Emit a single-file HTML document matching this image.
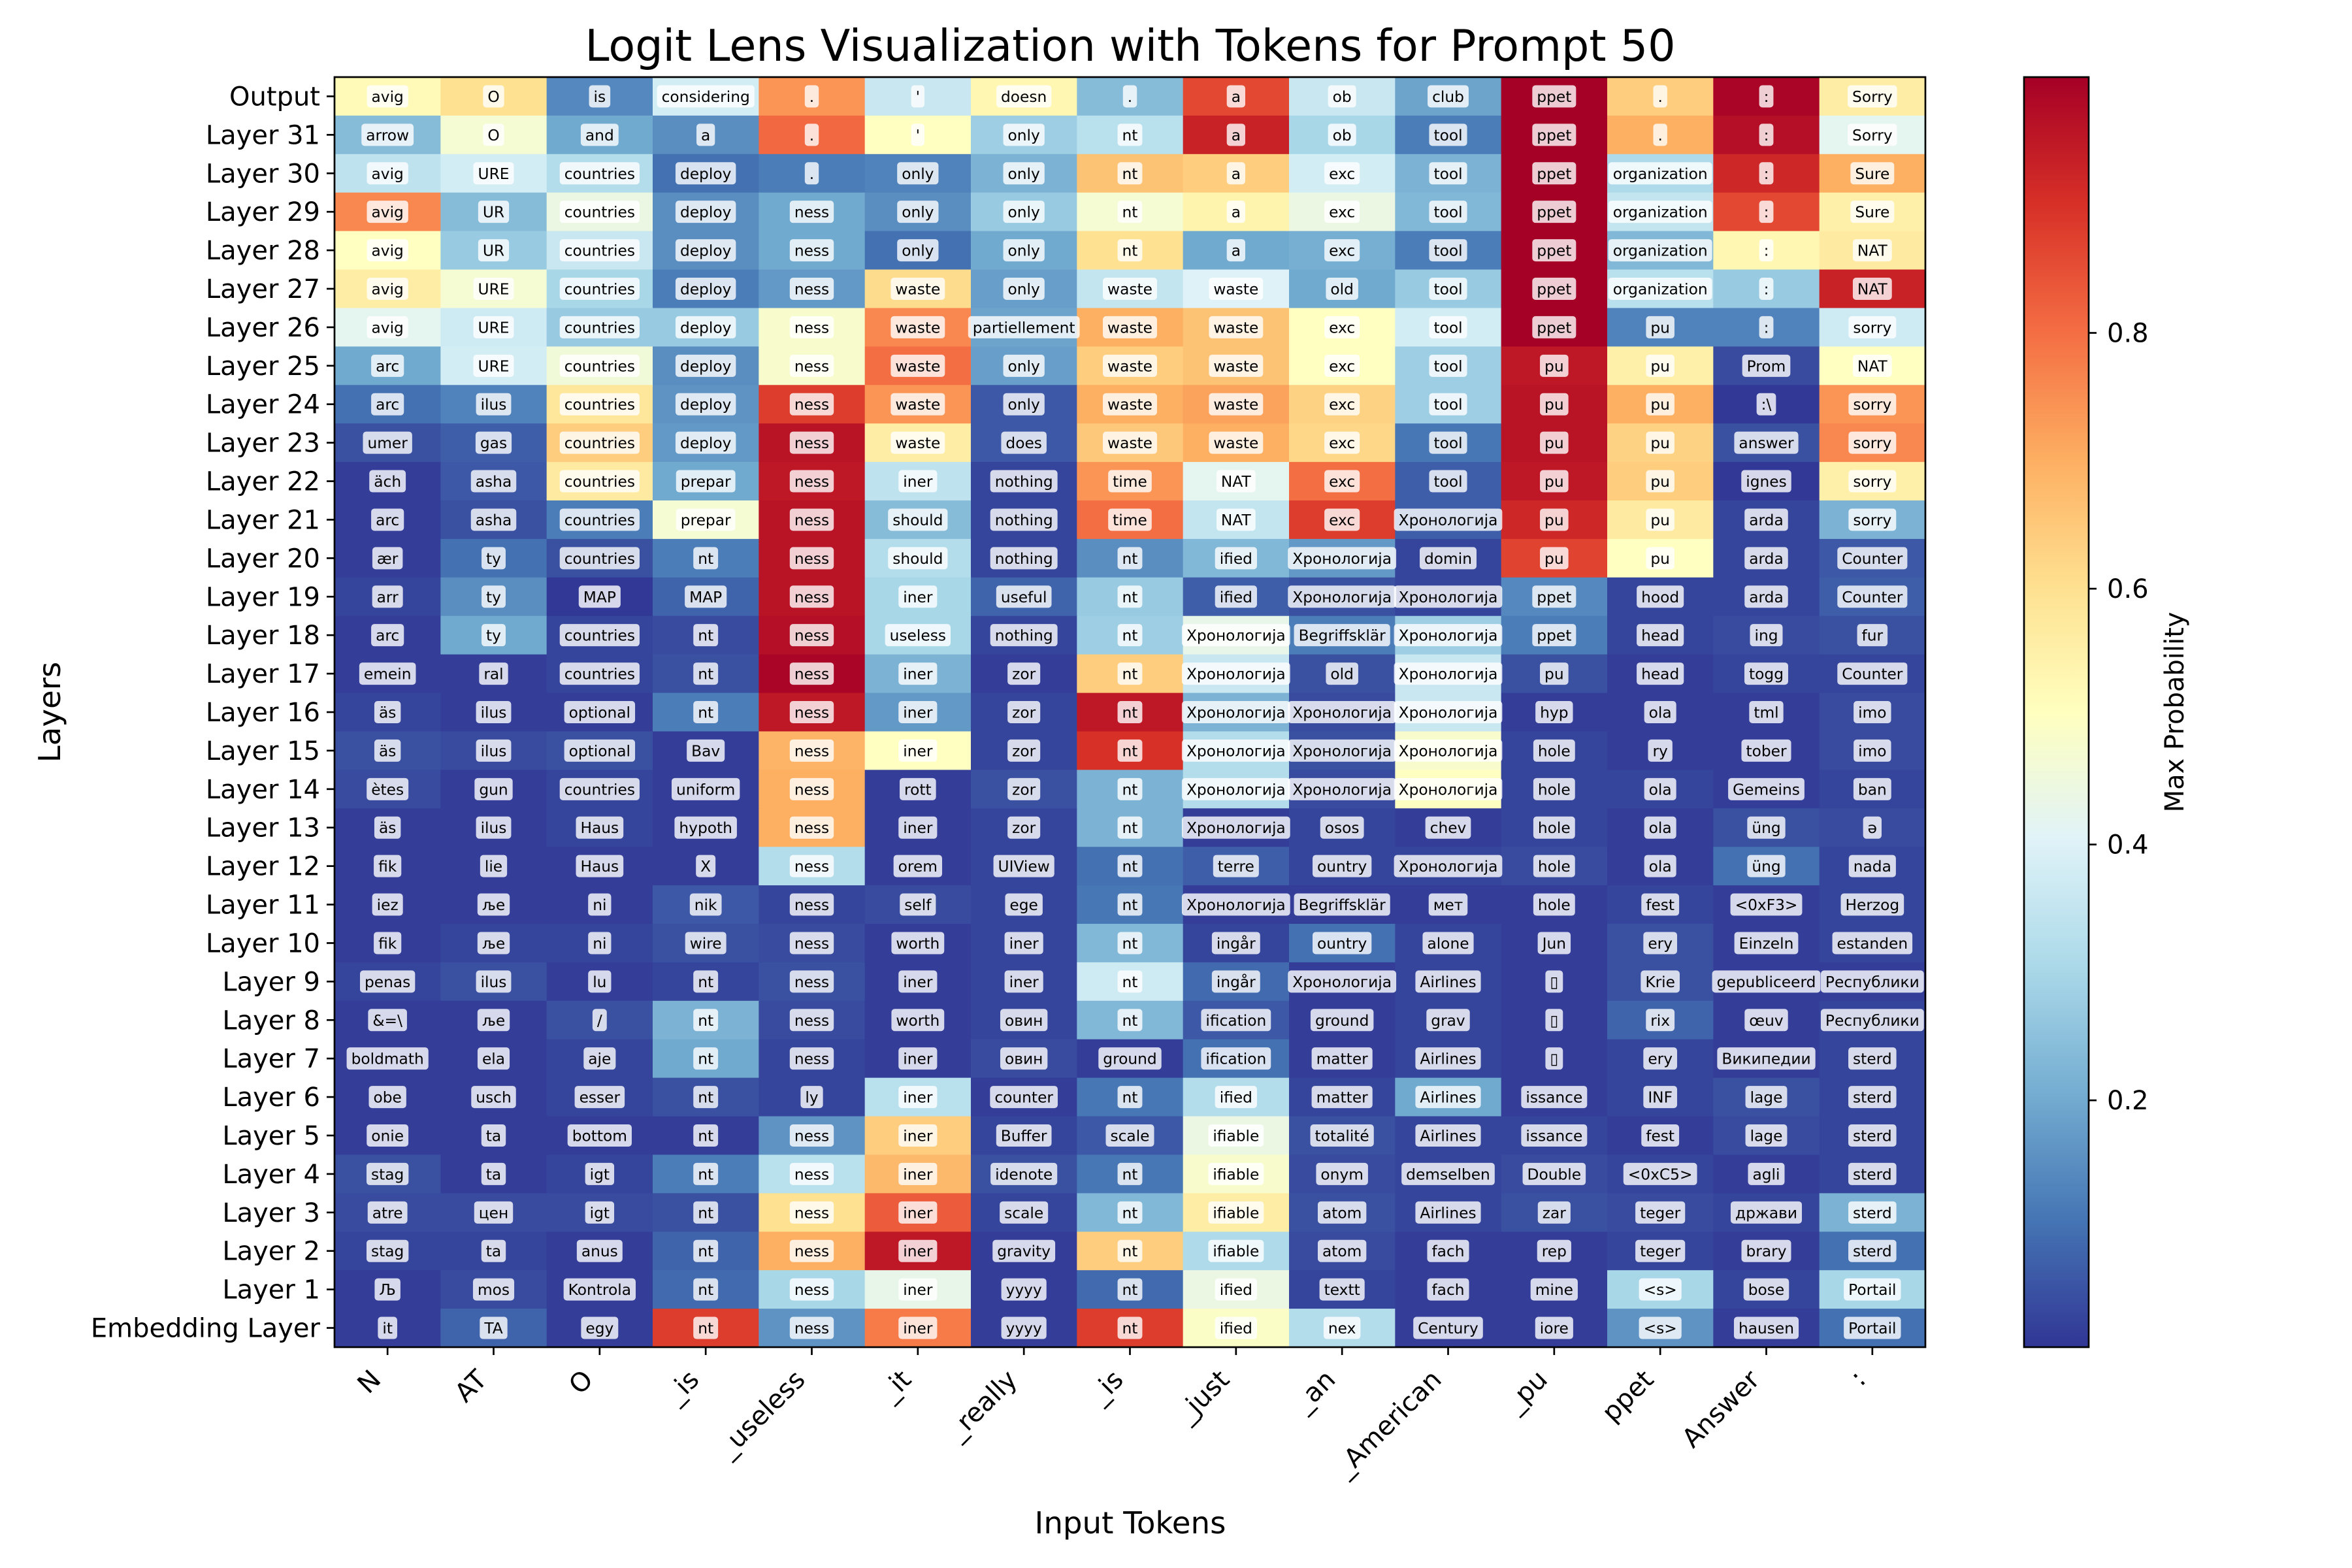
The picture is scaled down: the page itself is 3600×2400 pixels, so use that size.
<!DOCTYPE html>
<html><head><meta charset="utf-8">
<style>
html,body{margin:0;padding:0;background:#fff;}
svg{display:block;font-family:"DejaVu Sans","Liberation Sans","Noto Sans CJK SC",sans-serif;}
</style></head>
<body>
<svg id="chart" xmlns="http://www.w3.org/2000/svg" width="3600" height="2400" viewBox="0 0 3600 2400">
<rect x="0" y="0" width="3600" height="2400" fill="#fff"/>
<text x="1730" y="93" font-size="66.7" text-anchor="middle">Logit Lens Visualization with Tokens for Prompt 50</text>
<text x="1730" y="2347" font-size="46.7" text-anchor="middle">Input Tokens</text>
<text transform="translate(92,1090) rotate(-90)" font-size="46.7" text-anchor="middle">Layers</text>
<text transform="translate(3342,1090) rotate(-90)" font-size="40" text-anchor="middle">Max Probability</text>
<defs>
<linearGradient id="cbgrad" x1="0" y1="1" x2="0" y2="0">
<stop offset="0" stop-color="#313695"/><stop offset="0.1" stop-color="#4575b4"/><stop offset="0.2" stop-color="#74add1"/><stop offset="0.3" stop-color="#abd9e9"/><stop offset="0.4" stop-color="#e0f3f8"/><stop offset="0.5" stop-color="#ffffbf"/><stop offset="0.6" stop-color="#fee090"/><stop offset="0.7" stop-color="#fdae61"/><stop offset="0.8" stop-color="#f46d43"/><stop offset="0.9" stop-color="#d73027"/><stop offset="1" stop-color="#a50026"/>
</linearGradient>
</defs>
<g id="cells"></g>
<g id="labels"></g>
<g id="axes"></g>
<g id="cbar">
<rect x="3098" y="118" width="99" height="1944" fill="url(#cbgrad)" stroke="#000" stroke-width="2.7"/>
</g>
</svg>
<script>
const rowLabels = ["Output","Layer 31","Layer 30","Layer 29","Layer 28","Layer 27","Layer 26","Layer 25","Layer 24","Layer 23","Layer 22","Layer 21","Layer 20","Layer 19","Layer 18","Layer 17","Layer 16","Layer 15","Layer 14","Layer 13","Layer 12","Layer 11","Layer 10","Layer 9","Layer 8","Layer 7","Layer 6","Layer 5","Layer 4","Layer 3","Layer 2","Layer 1","Embedding Layer"];
const colLabels = ["N","AT","O","_is","_useless","_it","_really","_is","_just","_an","_American","_pu","ppet","Answer",":"];
const colorbarTicks = [0.2,0.4,0.6,0.8];
const colorbarTickLabels = ["0.2","0.4","0.6","0.8"];
const vMin = 0.007;
const vMax = 1.0;
const cellTokens = [
["avig","O","is","considering",".","'","doesn",".","a","ob","club","ppet",".",":","Sorry"],
["arrow","O","and","a",".","'","only","nt","a","ob","tool","ppet",".",":","Sorry"],
["avig","URE","countries","deploy",".","only","only","nt","a","exc","tool","ppet","organization",":","Sure"],
["avig","UR","countries","deploy","ness","only","only","nt","a","exc","tool","ppet","organization",":","Sure"],
["avig","UR","countries","deploy","ness","only","only","nt","a","exc","tool","ppet","organization",":","NAT"],
["avig","URE","countries","deploy","ness","waste","only","waste","waste","old","tool","ppet","organization",":","NAT"],
["avig","URE","countries","deploy","ness","waste","partiellement","waste","waste","exc","tool","ppet","pu",":","sorry"],
["arc","URE","countries","deploy","ness","waste","only","waste","waste","exc","tool","pu","pu","Prom","NAT"],
["arc","ilus","countries","deploy","ness","waste","only","waste","waste","exc","tool","pu","pu",":\\","sorry"],
["umer","gas","countries","deploy","ness","waste","does","waste","waste","exc","tool","pu","pu","answer","sorry"],
["äch","asha","countries","prepar","ness","iner","nothing","time","NAT","exc","tool","pu","pu","ignes","sorry"],
["arc","asha","countries","prepar","ness","should","nothing","time","NAT","exc","Хронологија","pu","pu","arda","sorry"],
["ær","ty","countries","nt","ness","should","nothing","nt","ified","Хронологија","domin","pu","pu","arda","Counter"],
["arr","ty","MAP","MAP","ness","iner","useful","nt","ified","Хронологија","Хронологија","ppet","hood","arda","Counter"],
["arc","ty","countries","nt","ness","useless","nothing","nt","Хронологија","Begriffsklär","Хронологија","ppet","head","ing","fur"],
["emein","ral","countries","nt","ness","iner","zor","nt","Хронологија","old","Хронологија","pu","head","togg","Counter"],
["äs","ilus","optional","nt","ness","iner","zor","nt","Хронологија","Хронологија","Хронологија","hyp","ola","tml","imo"],
["äs","ilus","optional","Bav","ness","iner","zor","nt","Хронологија","Хронологија","Хронологија","hole","ry","tober","imo"],
["ètes","gun","countries","uniform","ness","rott","zor","nt","Хронологија","Хронологија","Хронологија","hole","ola","Gemeins","ban"],
["äs","ilus","Haus","hypoth","ness","iner","zor","nt","Хронологија","osos","chev","hole","ola","üng","ə"],
["fik","lie","Haus","X","ness","orem","UIView","nt","terre","ountry","Хронологија","hole","ola","üng","nada"],
["iez","ље","ni","nik","ness","self","ege","nt","Хронологија","Begriffsklär","мет","hole","fest","<0xF3>","Herzog"],
["fik","ље","ni","wire","ness","worth","iner","nt","ingår","ountry","alone","Jun","ery","Einzeln","estanden"],
["penas","ilus","lu","nt","ness","iner","iner","nt","ingår","Хронологија","Airlines","▯","Krie","gepubliceerd","Республики"],
["&=\\","ље","/","nt","ness","worth","овин","nt","ification","ground","grav","▯","rix","œuv","Республики"],
["boldmath","ela","aje","nt","ness","iner","овин","ground","ification","matter","Airlines","▯","ery","Википедии","sterd"],
["obe","usch","esser","nt","ly","iner","counter","nt","ified","matter","Airlines","issance","INF","lage","sterd"],
["onie","ta","bottom","nt","ness","iner","Buffer","scale","ifiable","totalité","Airlines","issance","fest","lage","sterd"],
["stag","ta","igt","nt","ness","iner","idenote","nt","ifiable","onym","demselben","Double","<0xC5>","agli","sterd"],
["atre","цен","igt","nt","ness","iner","scale","nt","ifiable","atom","Airlines","zar","teger","држави","sterd"],
["stag","ta","anus","nt","ness","iner","gravity","nt","ifiable","atom","fach","rep","teger","brary","sterd"],
["Љ","mos","Kontrola","nt","ness","iner","yyyy","nt","ified","textt","fach","mine","<s>","bose","Portail"],
["it","TA","egy","nt","ness","iner","yyyy","nt","ified","nex","Century","iore","<s>","hausen","Portail"]
];
const cellValues = [
[0.52,0.60,0.14,0.38,0.74,0.36,0.53,0.24,0.86,0.36,0.19,1.00,0.64,0.99,0.56],
[0.24,0.47,0.20,0.15,0.81,0.50,0.28,0.33,0.93,0.30,0.12,1.00,0.70,0.97,0.42],
[0.34,0.38,0.32,0.10,0.12,0.13,0.22,0.66,0.64,0.38,0.22,1.00,0.31,0.92,0.70],
[0.76,0.24,0.44,0.15,0.20,0.15,0.27,0.47,0.54,0.44,0.23,1.00,0.35,0.86,0.55],
[0.50,0.27,0.36,0.15,0.20,0.10,0.20,0.60,0.20,0.21,0.12,1.00,0.23,0.53,0.57],
[0.56,0.47,0.30,0.12,0.17,0.61,0.18,0.35,0.40,0.20,0.27,1.00,0.33,0.27,0.93],
[0.42,0.37,0.27,0.27,0.48,0.76,0.19,0.70,0.66,0.50,0.38,1.00,0.13,0.13,0.37],
[0.20,0.38,0.46,0.15,0.48,0.80,0.18,0.64,0.66,0.50,0.28,0.95,0.55,0.04,0.50],
[0.10,0.13,0.58,0.16,0.88,0.74,0.06,0.70,0.72,0.63,0.28,0.96,0.70,0.01,0.74],
[0.05,0.07,0.64,0.17,0.96,0.56,0.06,0.65,0.70,0.62,0.11,0.96,0.63,0.05,0.76],
[0.02,0.06,0.57,0.20,0.95,0.34,0.03,0.74,0.42,0.80,0.07,0.95,0.64,0.01,0.55],
[0.02,0.05,0.12,0.47,0.96,0.24,0.03,0.80,0.35,0.88,0.07,0.92,0.57,0.03,0.22],
[0.02,0.10,0.05,0.12,0.96,0.32,0.03,0.15,0.23,0.17,0.03,0.87,0.50,0.03,0.06],
[0.03,0.15,0.01,0.08,0.96,0.30,0.08,0.27,0.07,0.05,0.03,0.14,0.03,0.03,0.07],
[0.02,0.20,0.03,0.04,0.97,0.30,0.03,0.28,0.43,0.12,0.28,0.12,0.03,0.04,0.05],
[0.02,0.02,0.03,0.05,0.99,0.22,0.02,0.64,0.36,0.05,0.36,0.05,0.02,0.03,0.03],
[0.03,0.02,0.02,0.12,0.95,0.17,0.03,0.95,0.22,0.04,0.36,0.02,0.02,0.02,0.04],
[0.05,0.04,0.05,0.02,0.69,0.50,0.03,0.90,0.32,0.05,0.48,0.03,0.02,0.02,0.04],
[0.04,0.02,0.03,0.02,0.70,0.02,0.05,0.22,0.32,0.04,0.50,0.03,0.03,0.02,0.03],
[0.02,0.02,0.03,0.02,0.70,0.02,0.03,0.22,0.02,0.03,0.02,0.03,0.02,0.05,0.04],
[0.02,0.02,0.02,0.02,0.32,0.02,0.03,0.10,0.07,0.03,0.03,0.04,0.02,0.10,0.03],
[0.02,0.02,0.02,0.06,0.03,0.04,0.03,0.11,0.02,0.02,0.02,0.02,0.03,0.02,0.03],
[0.02,0.03,0.03,0.05,0.04,0.02,0.03,0.23,0.03,0.10,0.03,0.02,0.05,0.02,0.03],
[0.03,0.05,0.02,0.03,0.05,0.02,0.03,0.37,0.09,0.02,0.03,0.02,0.05,0.02,0.02],
[0.02,0.02,0.05,0.22,0.04,0.02,0.03,0.23,0.06,0.02,0.03,0.02,0.08,0.02,0.03],
[0.02,0.02,0.03,0.20,0.03,0.02,0.04,0.02,0.10,0.02,0.03,0.02,0.03,0.02,0.03],
[0.02,0.02,0.03,0.05,0.03,0.33,0.02,0.11,0.32,0.03,0.20,0.02,0.03,0.05,0.03],
[0.02,0.02,0.02,0.02,0.16,0.64,0.03,0.06,0.44,0.05,0.03,0.03,0.02,0.04,0.03],
[0.05,0.02,0.03,0.12,0.33,0.68,0.05,0.11,0.48,0.04,0.03,0.04,0.03,0.02,0.03],
[0.04,0.04,0.04,0.05,0.60,0.83,0.03,0.23,0.56,0.05,0.03,0.05,0.04,0.03,0.22],
[0.03,0.03,0.02,0.08,0.70,0.95,0.02,0.64,0.31,0.04,0.02,0.02,0.03,0.02,0.10],
[0.02,0.04,0.02,0.09,0.30,0.43,0.02,0.09,0.44,0.03,0.02,0.02,0.30,0.03,0.30],
[0.02,0.08,0.02,0.88,0.16,0.78,0.02,0.88,0.49,0.32,0.02,0.02,0.16,0.02,0.10]
];

const NS = "http://www.w3.org/2000/svg";
const plotLeft = 512, plotRight = 2947, plotTop = 118, plotBottom = 2062;
const cbLeft = 3098, cbRight = 3197;
const nCols = colLabels.length, nRows = rowLabels.length;
const colW = (plotRight - plotLeft) / nCols;
const rowH = (plotBottom - plotTop) / nRows;
function xScale(c){ return plotLeft + c * colW; }
function yScale(r){ return plotTop + r * rowH; }
function cbScale(v){ return plotBottom - (v - vMin) / (vMax - vMin) * (plotBottom - plotTop); }
const cmapStops = ["#313695","#4575b4","#74add1","#abd9e9","#e0f3f8","#ffffbf","#fee090","#fdae61","#f46d43","#d73027","#a50026"];
function hex2rgb(h){ return [parseInt(h.slice(1,3),16),parseInt(h.slice(3,5),16),parseInt(h.slice(5,7),16)]; }
function cmap(v){
  let t = (v - vMin) / (vMax - vMin);
  t = Math.max(0, Math.min(1, t));
  const p = t * 10, i = Math.min(9, Math.floor(p)), f = p - i;
  const a = hex2rgb(cmapStops[i]), b = hex2rgb(cmapStops[i+1]);
  return "rgb(" + a.map((x,k)=>Math.round(x + (b[k]-x)*f)).join(",") + ")";
}
function mk(tag, attrs, parent){
  const e = document.createElementNS(NS, tag);
  for (const k in attrs) e.setAttribute(k, attrs[k]);
  parent.appendChild(e);
  return e;
}
const gCells = document.getElementById("cells");
const gLabels = document.getElementById("labels");
const gAxes = document.getElementById("axes");
const gCbar = document.getElementById("cbar");

for (let r = 0; r < nRows; r++){
  for (let c = 0; c < nCols; c++){
    const rect = mk("rect", {x: xScale(c), y: yScale(r), width: colW + 0.6, height: rowH + 0.6, fill: cmap(cellValues[r][c])}, gCells);
    
    
  }
}
for (let r = 0; r < nRows; r++){
  for (let c = 0; c < nCols; c++){
    const cx = xScale(c) + colW/2, cy = yScale(r) + rowH/2;
    const box = mk("rect", {y: cy - 17, height: 34, rx: 5, ry: 5, fill: "#fff", "fill-opacity": 0.8}, gLabels);
    
    
    const t = mk("text", {x: cx, y: cy + 8.5, "font-size": 23.3, "text-anchor": "middle"}, gLabels);
    t.textContent = cellTokens[r][c];
    
    
    let w = 30;
    try { w = t.getComputedTextLength(); } catch(e) {}
    box.setAttribute("x", cx - w/2 - 7);
    box.setAttribute("width", w + 14);
  }
}
// frame
const frame = mk("rect", {x: plotLeft, y: plotTop, width: plotRight - plotLeft, height: plotBottom - plotTop, fill: "none", stroke: "#000", "stroke-width": 2.7}, gAxes);


// y ticks
for (let r = 0; r < nRows; r++){
  const cy = yScale(r) + rowH/2;
  const tk = mk("line", {x1: plotLeft - 12, x2: plotLeft, y1: cy, y2: cy, stroke: "#000", "stroke-width": 2.7}, gAxes);
  
  
  const lb = mk("text", {x: plotLeft - 22, y: cy + 14, "font-size": 40, "text-anchor": "end"}, gAxes);
  lb.textContent = rowLabels[r];
  
  
}
// x ticks
for (let c = 0; c < nCols; c++){
  const cx = xScale(c) + colW/2;
  const tk = mk("line", {x1: cx, x2: cx, y1: plotBottom, y2: plotBottom + 12, stroke: "#000", "stroke-width": 2.7}, gAxes);
  
  
  const lb = mk("text", {transform: "translate(" + (cx - 8) + "," + (plotBottom + 52) + ") rotate(-45)", "font-size": 40, "text-anchor": "end"}, gAxes);
  lb.textContent = colLabels[c];
  
  
}
// colorbar ticks
for (let i = 0; i < colorbarTicks.length; i++){
  const y = cbScale(colorbarTicks[i]);
  const tk = mk("line", {x1: cbRight, x2: cbRight + 12, y1: y, y2: y, stroke: "#000", "stroke-width": 2.7}, gCbar);
  
  
  const lb = mk("text", {x: cbRight + 28, y: y + 14, "font-size": 40}, gCbar);
  lb.textContent = colorbarTickLabels[i];
  
  
}
</script>
</body></html>
